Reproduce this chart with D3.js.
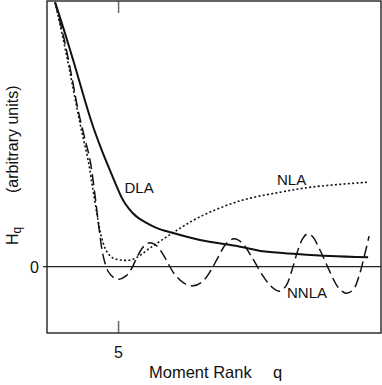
<!DOCTYPE html>
<html>
<head>
<meta charset="utf-8">
<script src="https://cdn.jsdelivr.net/npm/d3@7"></script>
<style>
    html, body { margin: 0; padding: 0; background: #fff; }
    #chart { width: 382px; height: 385px; }
    text { font-family: "Liberation Sans", Arial, Helvetica, sans-serif; fill: #111; }
</style>
</head>
<body>
<div id="chart"></div>
<script>
// values (arbitrary units)
let dlaQ = [2.34, 2.75, 3.17, 3.55, 3.93, 4.31, 4.64, 4.93, 5.19, 5.44, 5.73, 6.11, 6.61, 7.24, 8.41, 10.09, 11.05, 12.48, 13.86, 15.46];
let dlaH = [3.98, 3.52, 3.02, 2.55, 2.11, 1.74, 1.45, 1.20, 1.00, 0.87, 0.76, 0.67, 0.58, 0.51, 0.40, 0.30, 0.23, 0.19, 0.16, 0.14];

let nlaQ = [2.34, 2.67, 2.96, 3.22, 3.47, 3.72, 3.93, 4.10, 4.26, 4.47, 4.72, 5.06, 5.60, 6.32, 7.28, 8.41, 10.09, 11.77, 13.15, 15.41];
let nlaH = [3.98, 3.44, 2.93, 2.45, 2.01, 1.61, 1.15, 0.78, 0.48, 0.25, 0.14, 0.10, 0.11, 0.28, 0.51, 0.75, 0.99, 1.12, 1.20, 1.27];

let nnlaQ = [2.34, 2.71, 3.05, 3.30, 3.55, 3.80, 4.01, 4.18, 4.35, 4.56,
    4.77, 5.02, 5.31, 5.56, 5.81, 6.07, 6.32, 6.61, 6.95, 7.32,
    7.74, 8.12, 8.50, 8.83, 9.17, 9.50, 9.84, 10.17, 10.59, 11.05,
    11.43, 11.72, 12.02, 12.27, 12.52, 12.73, 12.90, 13.11, 13.44, 13.86,
    14.20, 14.53, 14.83, 15.08, 15.29, 15.50];
let nnlaH = [3.98, 3.44, 2.84, 2.36, 1.98, 1.61, 1.08, 0.58, 0.17, -0.07,
    -0.16, -0.19, -0.14, -0.02, 0.17, 0.31, 0.36, 0.31, 0.13, -0.10,
    -0.25, -0.29, -0.23, -0.08, 0.14, 0.34, 0.42, 0.36, 0.14, -0.14,
    -0.31, -0.37, -0.29, -0.05, 0.25, 0.43, 0.49, 0.46, 0.25, -0.08,
    -0.31, -0.40, -0.35, -0.14, 0.14, 0.46];

let xTicks = [5];
let yTicks = [0];

let seriesLabels = [
    { name: "DLA", q: 5.25, h: 1.11 },
    { name: "NLA", q: 11.64, h: 1.23 },
    { name: "NNLA", q: 12.06, h: -0.47 }
];

let width = 382, height = 385;
let margin = { top: 1, right: 1, bottom: 52, left: 47 };

let svg = d3.select("#chart")
    .append("svg")
    .attr("width", width)
    .attr("height", height);

let x = d3.scaleLinear()
    .domain([2, 16])
    .range([margin.left, width - margin.right]);

let y = d3.scaleLinear()
    .domain([-1, 4])
    .range([height - margin.bottom, margin.top]);

// zero line
svg.append("line")
    .attr("x1", margin.left - 4)
    .attr("x2", width - margin.right)
    .attr("y1", y(0))
    .attr("y2", y(0))
    .attr("stroke", "#222")
    .attr("stroke-width", 1.1);

// tick marks at top and bottom
xTicks.forEach((t) => {
    svg.append("line")
        .attr("x1", x(t)).attr("x2", x(t))
        .attr("y1", y(-1)).attr("y2", y(-1) - 12)
        .attr("stroke", "#666")
        .attr("stroke-width", 1.5);
    svg.append("line")
        .attr("x1", x(t)).attr("x2", x(t))
        .attr("y1", y(4)).attr("y2", y(4) + 12)
        .attr("stroke", "#666")
        .attr("stroke-width", 1.5);
});

svg.selectAll(".x-tick-label")
    .data(xTicks)
    .enter()
    .append("text")
    .attr("class", "x-tick-label")
    .attr("x", (d) => x(d))
    .attr("y", 358)
    .attr("text-anchor", "middle")
    .attr("font-size", "16px")
    .text((d) => d);

svg.selectAll(".y-tick-label")
    .data(yTicks)
    .enter()
    .append("text")
    .attr("class", "y-tick-label")
    .attr("x", 39)
    .attr("y", (d) => y(d) + 6)
    .attr("text-anchor", "end")
    .attr("font-size", "16px")
    .text((d) => d);

// curves
let line = d3.line()
    .x((d) => x(d[0]))
    .y((d) => y(d[1]))
    .curve(d3.curveCatmullRom.alpha(0.5));

let series = [
    { q: dlaQ, h: dlaH, width: 2, dash: null },
    { q: nlaQ, h: nlaH, width: 1.6, dash: "2,2.3" },
    { q: nnlaQ, h: nnlaH, width: 1.5, dash: "11,5" }
];

series.forEach((s) => {
    svg.append("path")
        .datum(d3.zip(s.q, s.h))
        .attr("fill", "none")
        .attr("stroke", "#111")
        .attr("stroke-width", s.width)
        .attr("stroke-dasharray", s.dash)
        .attr("d", line);
});

svg.selectAll(".series-label")
    .data(seriesLabels)
    .enter()
    .append("text")
    .attr("class", "series-label")
    .attr("x", (d) => x(d.q))
    .attr("y", (d) => y(d.h))
    .attr("font-size", "15px")
    .text((d) => d.name);

// frame
svg.append("rect")
    .attr("x", margin.left)
    .attr("y", margin.top)
    .attr("width", width - margin.left - margin.right)
    .attr("height", height - margin.top - margin.bottom)
    .attr("fill", "none")
    .attr("stroke", "#222")
    .attr("stroke-width", 1.4);

// axis titles
svg.append("text")
    .attr("x", 149)
    .attr("y", 378)
    .attr("font-size", "16.5px")
    .text("Moment Rank");

svg.append("text")
    .attr("x", 273)
    .attr("y", 378)
    .attr("font-size", "16.5px")
    .text("q");

let yTitle = svg.append("text")
    .attr("transform", "translate(18,245) rotate(-90)")
    .attr("font-size", "16px");
yTitle.append("tspan").text("H");
yTitle.append("tspan")
    .attr("font-size", "12px")
    .attr("dy", 3)
    .text("q");

svg.append("text")
    .attr("transform", "translate(18,193) rotate(-90)")
    .attr("font-size", "16px")
    .text("(arbitrary units)");
</script>
</body>
</html>
